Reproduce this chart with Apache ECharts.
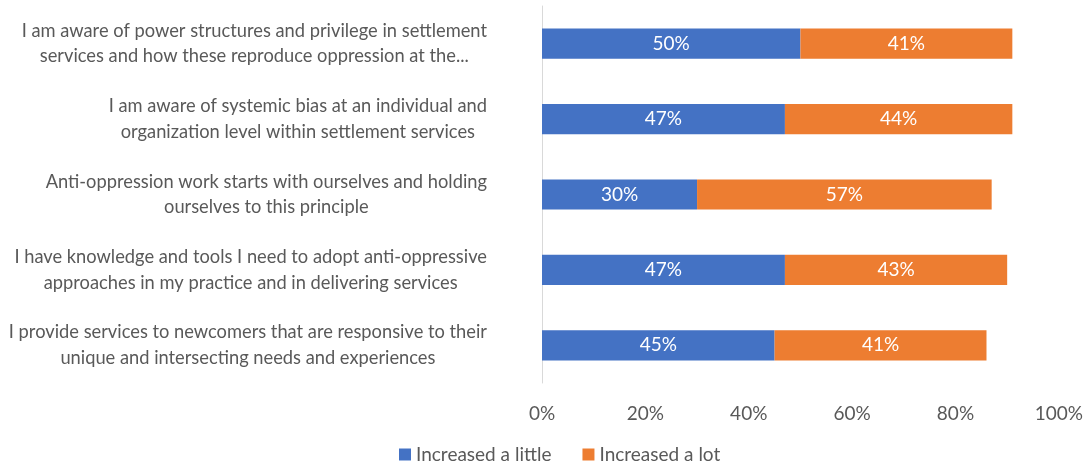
<!DOCTYPE html>
<html>
<head>
<meta charset="utf-8">
<script src="https://cdn.jsdelivr.net/npm/echarts@6/dist/echarts.min.js"></script>
<style>
  html, body { margin: 0; padding: 0; background: #fff; }
  #chart { width: 1086px; height: 469px; }
</style>
</head>
<body>
<div id="chart"></div>
<script>
// Survey statements, shown top to bottom
const categories = [
  'I am aware of power structures and privilege in settlement\nservices and how these reproduce oppression at the...',
  'I am aware of systemic bias at an individual and\norganization level within settlement services',
  'Anti-oppression work starts with ourselves and holding\nourselves to this principle',
  'I have knowledge and tools I need to adopt anti-oppressive\napproaches in my practice and in delivering services',
  'I provide services to newcomers that are responsive to their\nunique and intersecting needs and experiences'
];
const increasedLittle = [50, 47, 30, 47, 45];
const increasedLot = [41, 44, 57, 43, 41];
const seriesNames = ['Increased a little', 'Increased a lot'];
const tickValues = [0, 20, 40, 60, 80, 100];

const FONT = 'Lato';
const GREY = '#595959';

const chart = echarts.init(document.getElementById('chart'));

const labelStyle = {
  show: true,
  position: 'inside',
  color: '#ffffff',
  fontFamily: FONT,
  fontSize: 19,
  formatter: p => p.value + '%'
};

chart.setOption({
  animation: false,
  textStyle: { fontFamily: FONT },
  grid: { left: 542, right: 24, top: 6, bottom: 86, containLabel: false },
  xAxis: {
    type: 'value',
    min: 0,
    max: 100,
    interval: 20,
    axisLine: { show: false },
    axisTick: { show: false },
    splitLine: { show: false },
    axisLabel: {
      color: GREY,
      fontFamily: FONT,
      fontSize: 19,
      margin: 21,
      formatter: v => tickValues.includes(v) ? v + '%' : ''
    }
  },
  yAxis: {
    type: 'category',
    inverse: true,
    data: categories,
    axisLine: { show: true, lineStyle: { color: '#d9d9d9', width: 1 } },
    axisTick: { show: false },
    axisLabel: {
      margin: 55,
      align: 'right',
      color: GREY,
      fontFamily: FONT,
      fontSize: 18.3,
      lineHeight: 25.5,
      formatter: v => v.split('\n').map(l => '{c|' + l + '}').join('\n'),
      rich: {
        c: { align: 'center', color: GREY, fontFamily: FONT, fontSize: 18.3, lineHeight: 25.5 }
      }
    }
  },
  legend: {
    data: seriesNames,
    bottom: 0,
    left: 394,
    icon: 'rect',
    itemWidth: 12,
    itemHeight: 12,
    itemGap: 31,
    textStyle: { color: GREY, fontFamily: FONT, fontSize: 19 }
  },
  series: [
    {
      name: seriesNames[0],
      type: 'bar',
      stack: 'total',
      data: increasedLittle,
      barCategoryGap: '60%',
      itemStyle: { color: '#4472c4' },
      label: labelStyle
    },
    {
      name: seriesNames[1],
      type: 'bar',
      stack: 'total',
      data: increasedLot,
      barCategoryGap: '60%',
      itemStyle: { color: '#ed7d31' },
      label: labelStyle
    }
  ]
});
</script>
</body>
</html>
